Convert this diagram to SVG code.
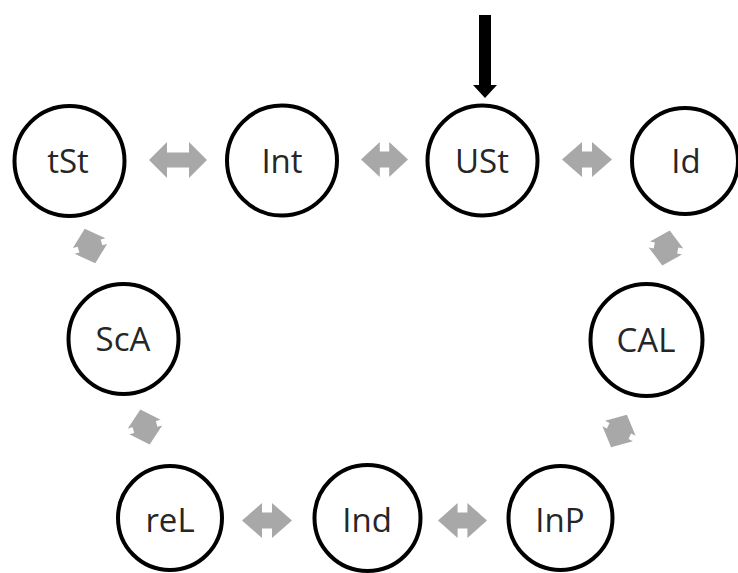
<svg xmlns="http://www.w3.org/2000/svg" width="738" height="573" viewBox="0 0 738 573">
  <style>
    .node circle { fill: #ffffff; stroke: #000000; stroke-width: 4; }
    .node text { font-family: "Open Sans", "Noto Sans", sans-serif; font-size: 33px; fill: #262626; text-anchor: middle; dominant-baseline: central; }
    .link { fill: #a8a8a8; }
  </style>
  <defs>
    <!-- double-headed block arrows, centred on the origin -->
    <path id="dbl50" d="M -25 0 L -5 -17.5 L -5 -8 L 5 -8 L 5 -17.5 L 25 0 L 5 17.5 L 5 8 L -5 8 L -5 17.5 Z"/>
    <path id="dbl58" d="M -29 0 L -11 -18 L -11 -7.5 L 11 -7.5 L 11 -18 L 29 0 L 11 18 L 11 7.5 L -11 7.5 L -11 18 Z"/>
    <path id="dblShort" d="M -18 0 L -3 -17 L -3 -12 L 3 -12 L 3 -17 L 18 0 L 3 17 L 3 12 L -3 12 L -3 17 Z"/>
  </defs>

  <!-- entry arrow into USt -->
  <path d="M 479 15 L 491 15 L 491 85 L 497 85 L 485 98 L 473 85 L 479 85 Z" fill="#000000"/>

  <g id="connectors" class="link">
    <use href="#dbl58" transform="translate(178,160)"/>
    <use href="#dbl50" transform="translate(384.5,159.5) scale(0.94,1)"/>
    <use href="#dbl50" transform="translate(587,159.5)"/>
    <use href="#dbl50" transform="translate(267,520.5)"/>
    <use href="#dbl50" transform="translate(462.5,520.5) scale(0.98,1)"/>
    <use href="#dblShort" transform="translate(90,246) rotate(73)"/>
    <use href="#dblShort" transform="translate(145,427) rotate(75)"/>
    <use href="#dblShort" transform="translate(666,248) rotate(102)"/>
    <use href="#dblShort" transform="translate(619,431) rotate(116)"/>
  </g>

  <g id="tSt" class="node"><circle cx="69.5" cy="161" r="55"/><text x="68" y="160">tSt</text></g>
  <g id="Int" class="node"><circle cx="282" cy="160.5" r="55"/><text x="282" y="160">Int</text></g>
  <g id="USt" class="node"><circle cx="482.5" cy="160.5" r="55"/><text x="482" y="160">USt</text></g>
  <g id="Id" class="node"><circle cx="685" cy="161" r="53"/><text x="686" y="160">Id</text></g>
  <g id="ScA" class="node"><circle cx="123.5" cy="339" r="55"/><text x="123" y="338">ScA</text></g>
  <g id="CAL" class="node"><circle cx="646.5" cy="340" r="56"/><text x="646" y="339">CAL</text></g>
  <g id="reL" class="node"><circle cx="170" cy="518" r="52"/><text x="170" y="519">reL</text></g>
  <g id="Ind" class="node"><circle cx="367.5" cy="518" r="53"/><text x="367" y="519">Ind</text></g>
  <g id="InP" class="node"><circle cx="560.5" cy="518" r="52"/><text x="560" y="519">InP</text></g>
</svg>
